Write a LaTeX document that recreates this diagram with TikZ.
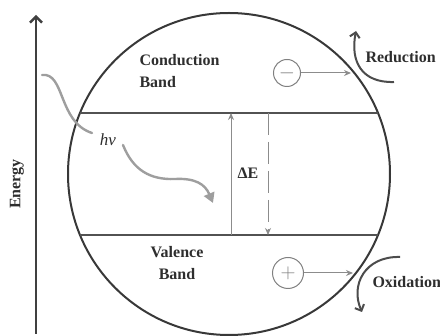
\documentclass[tikz,border=0pt]{standalone}
\usepackage{fontspec}
\setmainfont{Liberation Serif}
\usetikzlibrary{arrows.meta,positioning}

\begin{document}
\begin{tikzpicture}[x=1pt,y=-1pt,
  font=\fontsize{16}{22}\selectfont\bfseries,text=black!82,
  band/.style={line width=2.4pt,draw=black!68},
  rim/.style={line width=2pt,draw=black!78},
  transfer/.style={draw=black!45,line width=1pt,-{Stealth[length=7pt,width=6pt]}},
  photon/.style={draw=black!38,line width=2.4pt,line cap=round},
  redox/.style={draw=black!70,line width=2pt,-{Straight Barb[length=5pt,width=10pt]}},
  sign/.style={circle,draw=black!50,line width=1pt,inner sep=0pt,text=black!50}]
\useasboundingbox (0,0) rectangle (440,336);
% energy axis
\coordinate (axisS) at (36,334);
\coordinate (axisN) at (36,15);
\draw[line width=2.4pt,draw=black!75,-{Straight Barb[length=6pt,width=12pt]}] (axisS) -- (axisN);
\node[rotate=90] (energy) at (17,184) {Energy};
% particle and bands
\coordinate (cen) at (229,174);
\draw[rim] (cen) circle[radius=161pt];
\coordinate (cbL) at (80,113);
\coordinate (cbR) at (378,113);
\coordinate (vbL) at (80,235);
\coordinate (vbR) at (378,235);
\draw[band] (cbL) -- (cbR);
\draw[band] (vbL) -- (vbR);
\node[align=left,anchor=west] (cb) at (136,71) {Conduction\\Band};
\node[align=center] (vb) at (177,263) {Valence\\Band};
% band gap
\coordinate (upS) at (231,235);
\coordinate (upE) at (231,113);
\coordinate (dnS) at (268,113);
\coordinate (dnE) at (268,235);
\draw[transfer] (upS) -- (upE);
\draw[transfer,dash pattern=on 22pt off 7pt] (dnS) -- (dnE);
\node (gap) at (248,173) {ΔE};
% photon
\node[font=\fontsize{17}{22}\selectfont\itshape] (hv) at (108,140) {hv};
\coordinate (phA) at (42,75);
\coordinate (phB) at (92,133);
\coordinate (phC) at (123,145);
\coordinate (phD) at (175,179);
\coordinate (phE) at (213,203);
\draw[photon] (phA) .. controls (65,72) and (58,122) .. (phB);
\draw[photon,-{Triangle[length=10pt,width=11pt]}] (phC) .. controls (133,170) and (150,180) .. (phD)
  .. controls (195,178) and (205,184) .. (phE);
% electron and hole
\node[sign,minimum size=27pt] (minus) at (287,73) {\fontsize{20}{20}\selectfont$-$};
\node[sign,minimum size=31pt] (plus) at (288,273) {\fontsize{22}{22}\selectfont$+$};
\coordinate (eOut) at (351,73);
\coordinate (hOut) at (353,273);
\draw[transfer] (minus) -- (eOut);
\draw[transfer] (plus) -- (hOut);
% surface reactions
\coordinate (redS) at (394,82);
\coordinate (redE) at (356,31);
\draw[redox] (redS) .. controls (362,83) and (350,62) .. (redE);
\node[anchor=west] (red) at (362,57) {Reduction};
\coordinate (oxS) at (400,257);
\coordinate (oxE) at (362,312);
\draw[redox] (oxS) .. controls (365,256) and (350,285) .. (oxE);
\node[anchor=west] (ox) at (369,282) {Oxidation};
\end{tikzpicture}
\end{document}
